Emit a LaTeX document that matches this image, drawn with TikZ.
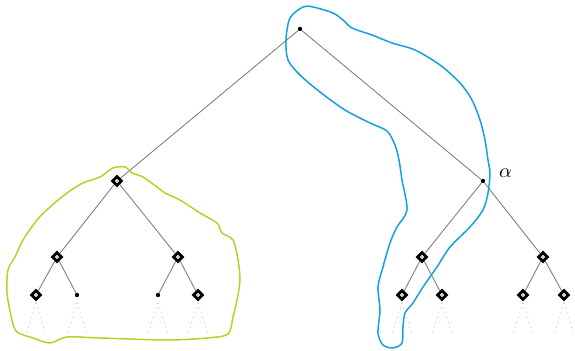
\documentclass[tikz,border=0pt]{standalone}
\usetikzlibrary{shapes.geometric}
\definecolor{blobgreen}{RGB}{176,212,40}
\definecolor{blobblue}{RGB}{20,160,225}
\begin{document}
\begin{tikzpicture}[x=0.5pt,y=-0.5pt,
  edge/.style={draw=gray, line width=0.45pt},
  leafline/.style={draw=gray!40, line width=0.5pt, dotted},
  dnode/.style={diamond, draw=black, fill=white, line width=1.4pt, inner sep=0pt, minimum size=5pt,
     path picture={\fill[gray!50] (path picture bounding box.center) circle (0.6pt);}},
  cnode/.style={circle, fill=black, inner sep=0pt, minimum size=2.2pt},
  blob/.style={line width=0.75pt, line join=round}]
\useasboundingbox (0,0) rectangle (575,351);
% nodes
\node[cnode] (r) at (300,29) {};
\node[dnode] (a) at (117,181) {};
\node[cnode] (b) at (483,181) {};
\node[anchor=west] at (492,173) {$\alpha$};
\node[dnode] (aa) at (57,257) {};
\node[dnode] (ab) at (178,257) {};
\node[dnode] (ba) at (422,257) {};
\node[dnode] (bb) at (543,257) {};
\node[dnode] (aaa) at (36,295) {};
\node[cnode] (aab) at (77,295) {};
\node[cnode] (aba) at (158,295) {};
\node[dnode] (abb) at (198,295) {};
\node[dnode] (baa) at (402,295) {};
\node[dnode] (bab) at (442,295) {};
\node[dnode] (bba) at (523,295) {};
\node[dnode] (bbb) at (564,295) {};
% edges
\draw[edge] (r) -- (a);
\draw[edge] (r) -- (b);
\draw[edge] (a) -- (aa);
\draw[edge] (a) -- (ab);
\draw[edge] (b) -- (ba);
\draw[edge] (b) -- (bb);
\draw[edge] (aa) -- (aaa);
\draw[edge] (aa) -- (aab);
\draw[edge] (ab) -- (aba);
\draw[edge] (ab) -- (abb);
\draw[edge] (ba) -- (baa);
\draw[edge] (ba) -- (bab);
\draw[edge] (bb) -- (bba);
\draw[edge] (bb) -- (bbb);
% dotted leaves
\foreach \n in {aaa,aab,aba,abb,baa,bab,bba,bbb}{
  \coordinate (\n L) at ([xshift=-4.8pt,yshift=-19pt]\n.center);
  \coordinate (\n R) at ([xshift=4.8pt,yshift=-19pt]\n.center);
  \draw[leafline] ([yshift=-4pt]\n.center) -- (\n L);
  \draw[leafline] ([yshift=-4pt]\n.center) -- (\n R);
}
% green blob
\draw[blob, blobgreen] plot[smooth cycle, tension=0.5] coordinates {
 (113,168) (125,167) (132,173) (143,177) (157,187) (165,193) (180,200) (200,213)
 (217,223) (222,233) (233,240) (238,260) (240,280) (237,300) (233,317) (228,334)
 (207,338) (167,340) (100,338) (67,337) (50,343) (33,338) (17,332) (12,320)
 (7,293) (8,270) (15,257) (23,240) (37,220) (50,207) (67,193) (83,183) (100,177)};
% blue blob
\draw[blob, blobblue] plot[smooth cycle, tension=0.5] coordinates {
 (303,7) (313,7) (333,13) (343,20) (352,28) (372,35) (392,43) (415,50) (440,65)
 (460,83) (472,100) (480,120) (485,140) (488,160) (490,173) (488,193) (483,210)
 (470,227) (450,247) (437,267) (423,287) (413,303) (405,313) (403,327) (402,343)
 (393,348) (383,345) (378,333) (380,310) (378,287) (383,267) (390,243) (397,227)
 (407,210) (402,180) (399,160) (395,145) (387,131) (370,123) (345,110) (320,92)
 (300,75) (288,60) (286,40) (290,18)};
\end{tikzpicture}
\end{document}
